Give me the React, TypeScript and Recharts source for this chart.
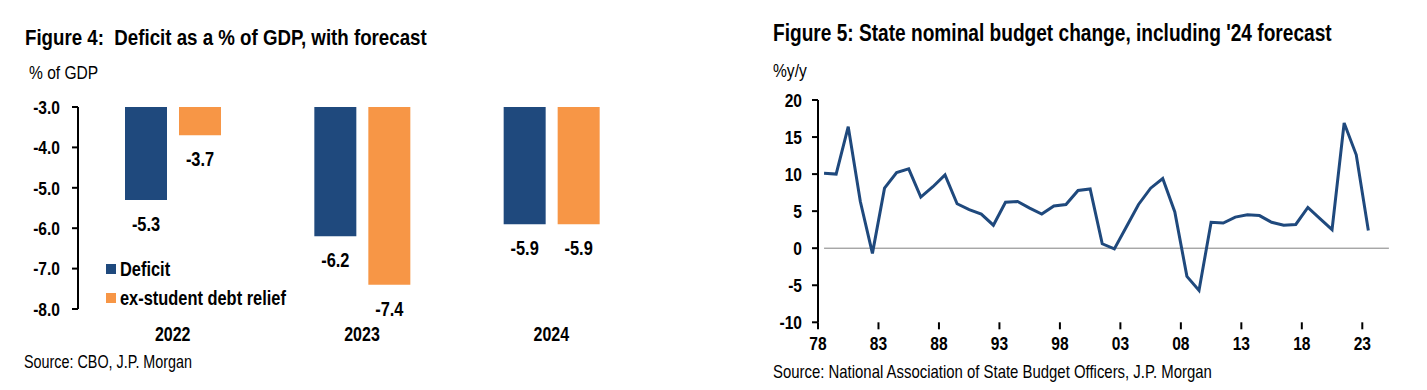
import React from 'react';
import { BarChart, Bar, XAxis, YAxis, LineChart, Line, ReferenceLine, LabelList, Legend } from 'recharts';

const FONT = "'Liberation Sans', Arial, sans-serif";
const SX = 0.82; // horizontal condensing to mimic Arial Narrow
const NAVY = '#1F497D';
const ORANGE = '#F79646';

// Figure 4 data
const deficitYears = ['2022', '2023', '2024'];
const deficitValues = [-5.3, -6.2, -5.9];
const exStudentValues = [-3.7, -7.4, -5.9];
const deficitTicks = [-8, -7, -6, -5, -4, -3];
const categoryBoundaries = [0, 1, 2, 3];

// Figure 5 data (fiscal years)
const fiscalYears = [
  1979, 1980, 1981, 1982, 1983, 1984, 1985, 1986, 1987, 1988,
  1989, 1990, 1991, 1992, 1993, 1994, 1995, 1996, 1997, 1998,
  1999, 2000, 2001, 2002, 2003, 2004, 2005, 2006, 2007, 2008,
  2009, 2010, 2011, 2012, 2013, 2014, 2015, 2016, 2017, 2018,
  2019, 2020, 2021, 2022, 2023, 2024,
];
const budgetChange = [
  10.1, 10.0, 16.4, 6.3, -0.7, 8.1, 10.2, 10.7, 6.9, 8.3,
  9.9, 6.0, 5.2, 4.6, 3.1, 6.2, 6.3, 5.4, 4.6, 5.7,
  5.9, 7.8, 8.0, 0.6, -0.1, 2.9, 5.9, 8.1, 9.4, 4.9,
  -3.8, -5.7, 3.5, 3.4, 4.2, 4.5, 4.4, 3.5, 3.1, 3.2,
  5.5, 4.0, 2.5, 16.9, 12.6, 2.4,
];
const budgetTicks = [-10, -5, 0, 5, 10, 15, 20];
const majorYearTicks = [1978, 1983, 1988, 1993, 1998, 2003, 2008, 2013, 2018, 2023];
const minorYearTicks = [
  1978, 1979, 1980, 1981, 1982, 1983, 1984, 1985, 1986, 1987, 1988, 1989,
  1990, 1991, 1992, 1993, 1994, 1995, 1996, 1997, 1998, 1999, 2000, 2001,
  2002, 2003, 2004, 2005, 2006, 2007, 2008, 2009, 2010, 2011, 2012, 2013,
  2014, 2015, 2016, 2017, 2018, 2019, 2020, 2021, 2022, 2023, 2024, 2025, 2026,
];

const barData = deficitYears.map((year, i) => ({
  year,
  deficit: deficitValues[i],
  exStudent: exStudentValues[i],
}));

// fiscal year values are plotted at the start of the fiscal year (mid previous calendar year)
const lineData = fiscalYears.map((fy, i) => ({ x: fy - 0.5, value: budgetChange[i] }));

const legendItems = [
  { name: 'Deficit', color: NAVY },
  { name: 'ex-student debt relief', color: ORANGE },
];

const makeTick = (fontSize: number, fmt: (v: any) => string) => (props: any) => {
  const { x, y, payload, textAnchor, verticalAnchor } = props;
  const dy = verticalAnchor === 'start' ? '0.71em' : verticalAnchor === 'end' ? '0' : '0.355em';
  return (
    <g transform={`translate(${x},${y})`}>
      <text
        transform={`scale(${SX},1)`}
        x={0}
        y={0}
        dy={dy}
        textAnchor={textAnchor}
        fontFamily={FONT}
        fontWeight="bold"
        fontSize={fontSize}
        fill="#000"
      >
        {fmt(payload.value)}
      </text>
    </g>
  );
};

const BarValueLabel = (props: any) => {
  const vb = props.viewBox || props;
  const x = vb.x ?? props.x;
  const y = vb.y ?? props.y;
  const width = vb.width ?? props.width;
  const height = vb.height ?? props.height;
  const bottom = Math.max(y, y + height);
  return (
    <g transform={`translate(${x + width / 2},${bottom + 24})`}>
      <text
        transform={`scale(${SX},1)`}
        textAnchor="middle"
        dominantBaseline="central"
        fontFamily={FONT}
        fontWeight="bold"
        fontSize={20}
        fill="#000"
      >
        {Number(props.value).toFixed(1)}
      </text>
    </g>
  );
};

const narrowSpan: React.CSSProperties = {
  display: 'inline-block',
  transform: `scaleX(${SX})`,
  transformOrigin: 'left center',
  whiteSpace: 'nowrap',
};

const renderLegend = () => (
  <div style={{ fontFamily: FONT }}>
    {legendItems.map((item) => (
      <div key={item.name} style={{ display: 'flex', alignItems: 'center', height: 29 }}>
        <span style={{ display: 'inline-block', width: 10, height: 10, background: item.color, marginRight: 4, flexShrink: 0 }} />
        <span style={{ ...narrowSpan, fontSize: 20, fontWeight: 'bold', color: '#000' }}>{item.name}</span>
      </div>
    ))}
  </div>
);

const axisStroke = { stroke: '#000', strokeWidth: 2 };

const textBase: React.CSSProperties = {
  position: 'absolute',
  fontFamily: FONT,
  lineHeight: 1,
  color: '#000',
  whiteSpace: 'nowrap',
  transform: `scaleX(${SX})`,
  transformOrigin: 'left top',
};

export default function App() {
  return (
    <div style={{ position: 'relative', width: 1411, height: 374, background: '#fff', fontFamily: FONT }}>
      {/* Figure 4 */}
      <div style={{ ...textBase, left: 17, top: 18, fontSize: 22.8, fontWeight: 'bold' }}>
        Figure 4:&nbsp;&nbsp;Deficit as a % of GDP, with forecast
      </div>
      <div style={{ ...textBase, left: 21, top: 54.5, fontSize: 19 }}>% of GDP</div>
      <div style={{ position: 'absolute', left: 0, top: 0 }}>
        <BarChart
          width={660}
          height={366}
          data={barData}
          margin={{ top: 99, right: 22, bottom: 25, left: 0 }}
          barSize={42}
          barGap={12}
        >
          <XAxis
            xAxisId="cat"
            dataKey="year"
            orientation="bottom"
            axisLine={false}
            tickLine={false}
            tickSize={0}
            tickMargin={18}
            height={40}
            tick={makeTick(19.5, (v) => String(v))}
          />
          <XAxis
            xAxisId="bounds"
            type="number"
            orientation="top"
            domain={[0, 3]}
            ticks={categoryBoundaries}
            height={0}
            tick={false}
            tickSize={-6}
            axisLine={axisStroke}
            tickLine={axisStroke}
          />
          <YAxis
            domain={[-8, -3]}
            ticks={deficitTicks}
            width={70}
            axisLine={axisStroke}
            tickLine={axisStroke}
            tickSize={6}
            tickMargin={12}
            tick={makeTick(19, (v) => Number(v).toFixed(1))}
            allowDataOverflow
          />
          <Legend
            layout="vertical"
            align="center"
            verticalAlign="middle"
            content={renderLegend}
            wrapperStyle={{ left: 98, top: 246.5, width: 'auto', height: 'auto' }}
          />
          <Bar xAxisId="cat" dataKey="deficit" name="Deficit" fill={NAVY} isAnimationActive={false}>
            <LabelList dataKey="deficit" content={BarValueLabel} />
          </Bar>
          <Bar xAxisId="cat" dataKey="exStudent" name="ex-student debt relief" fill={ORANGE} isAnimationActive={false}>
            <LabelList dataKey="exStudent" content={BarValueLabel} />
          </Bar>
        </BarChart>
      </div>
      <div style={{ ...textBase, left: 16, top: 346, fontSize: 17.5 }}>Source: CBO, J.P. Morgan</div>

      {/* Figure 5 */}
      <div style={{ ...textBase, left: 765, top: 14, fontSize: 23.3, fontWeight: 'bold' }}>
        Figure 5: State nominal budget change, including '24 forecast
      </div>
      <div style={{ ...textBase, left: 765, top: 53, fontSize: 19 }}>%y/y</div>
      <div style={{ position: 'absolute', left: 752, top: 0 }}>
        <LineChart
          width={660}
          height={366}
          data={lineData}
          margin={{ top: 92, right: 19, bottom: 21.7, left: 0 }}
        >
          <XAxis
            xAxisId="minor"
            type="number"
            dataKey="x"
            domain={[1978, 2026.2]}
            ticks={minorYearTicks}
            height={0}
            tick={false}
            tickSize={6}
            axisLine={axisStroke}
            tickLine={{ stroke: '#000', strokeWidth: 1.5 }}
            allowDataOverflow
          />
          <XAxis
            xAxisId="majorUp"
            type="number"
            dataKey="x"
            domain={[1978, 2026.2]}
            ticks={majorYearTicks}
            height={0}
            mirror
            tick={false}
            tickSize={4}
            axisLine={false}
            tickLine={axisStroke}
            allowDataOverflow
          />
          <XAxis
            xAxisId="major"
            type="number"
            dataKey="x"
            domain={[1978, 2026.2]}
            ticks={majorYearTicks}
            height={30}
            tickSize={7}
            tickMargin={7}
            axisLine={false}
            tickLine={axisStroke}
            tick={makeTick(19, (v) => String(v).slice(2))}
            allowDataOverflow
          />
          <YAxis
            domain={[-10, 20]}
            ticks={budgetTicks}
            width={58}
            axisLine={axisStroke}
            tickLine={axisStroke}
            tickSize={6}
            tickMargin={10}
            tick={makeTick(19, (v) => String(v))}
            allowDataOverflow
          />
          <ReferenceLine
            xAxisId="major"
            segment={[{ x: 1978.5, y: 0 }, { x: 2025.2, y: 0 }]}
            stroke="#808080"
            strokeWidth={1}
          />
          <Line
            xAxisId="major"
            dataKey="value"
            stroke={NAVY}
            strokeWidth={3}
            dot={false}
            isAnimationActive={false}
          />
        </LineChart>
      </div>
      <div style={{ ...textBase, left: 765, top: 355, fontSize: 18.2 }}>
        Source: National Association of State Budget Officers, J.P. Morgan
      </div>
    </div>
  );
}
